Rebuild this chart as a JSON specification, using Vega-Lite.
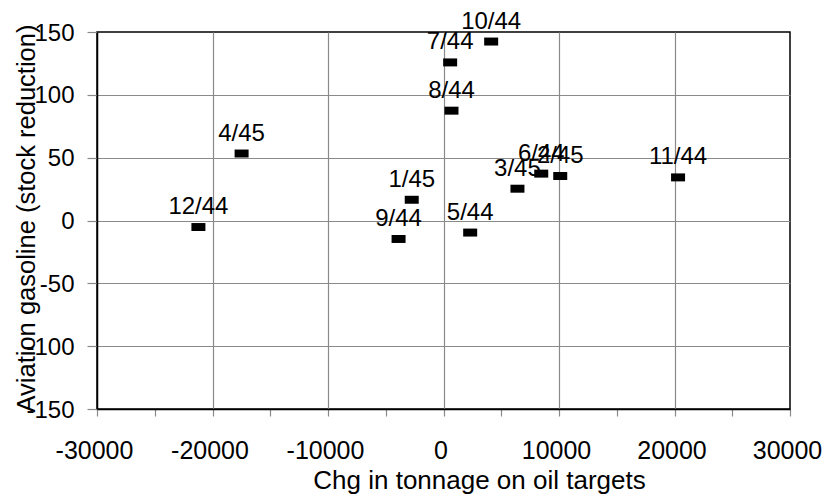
{
  "$schema": "https://vega.github.io/schema/vega-lite/v6.json",
  "width": 693,
  "height": 377,
  "autosize": "none",
  "padding": {"left": 97, "top": 32, "right": 36, "bottom": 86},
  "background": "white",
  "config": {
    "view": {"stroke": "black", "strokeWidth": 1.5},
    "font": "Liberation Sans"
  },
  "data": {
    "values": [
      {"label": "12/44", "x": -21220, "y": -5.2},
      {"label": "4/45", "x": -17480, "y": 53.3},
      {"label": "1/45", "x": -2750, "y": 16.5},
      {"label": "9/44", "x": -3890, "y": -14.7},
      {"label": "7/44", "x": 576, "y": 125.8},
      {"label": "10/44", "x": 4127, "y": 142.4},
      {"label": "8/44", "x": 692, "y": 87.4},
      {"label": "5/44", "x": 2310, "y": -9.6},
      {"label": "3/45", "x": 6403, "y": 25.3},
      {"label": "6/44", "x": 8463, "y": 37.3},
      {"label": "2/45", "x": 10107, "y": 35.4},
      {"label": "11/44", "x": 20308, "y": 34.3}
    ]
  },
  "encoding": {
    "x": {
      "field": "x",
      "type": "quantitative",
      "scale": {"domain": [-30000, 30000], "nice": false, "zero": false},
      "axis": {
        "title": "Chg in tonnage on oil targets",
        "values": [-30000, -25000, -20000, -15000, -10000, -5000, 0, 5000, 10000, 15000, 20000, 25000, 30000],
        "labelExpr": "datum.value % 10000 === 0 ? '' + datum.value : ''",
        "grid": true,
        "gridColor": "#8a8a8a",
        "gridWidth": 1.2,
        "gridOpacity": {"condition": {"test": "datum.value % 10000 !== 0 || abs(datum.value) === 30000", "value": 0}, "value": 1},
        "tickColor": "#8a8a8a",
        "tickWidth": 1.2,
        "tickSize": 7,
        "domainColor": "black",
        "domainWidth": 1.5,
        "labelFont": "Liberation Sans",
        "labelFontSize": 25,
        "labelColor": "black",
        "labelBaseline": "alphabetic",
        "labelPadding": 42,
        "labelOffset": -3,
        "labelFlush": false,
        "labelOverlap": false,
        "titleFont": "Liberation Sans",
        "titleFontSize": 26,
        "titleFontWeight": "normal",
        "titleColor": "black",
        "titleX": 382,
        "titleY": 79,
        "titleAlign": "center",
        "titleBaseline": "alphabetic"
      }
    },
    "y": {
      "field": "y",
      "type": "quantitative",
      "scale": {"domain": [-150, 150], "nice": false, "zero": false},
      "axis": {
        "title": "Aviation gasoline (stock reduction)",
        "values": [-150, -100, -50, 0, 50, 100, 150],
        "labelExpr": "'' + datum.value",
        "grid": true,
        "gridColor": "#8a8a8a",
        "gridWidth": 1.2,
        "gridOpacity": {"condition": {"test": "abs(datum.value) === 150", "value": 0}, "value": 1},
        "tickColor": "#8a8a8a",
        "tickWidth": 1.2,
        "tickSize": 10,
        "domainColor": "black",
        "domainWidth": 1.5,
        "labelFont": "Liberation Sans",
        "labelFontSize": 24,
        "labelColor": "black",
        "labelBaseline": "alphabetic",
        "labelOffset": 8,
        "labelPadding": 13,
        "labelFlush": false,
        "labelOverlap": false,
        "titleFont": "Liberation Sans",
        "titleFontSize": 25.5,
        "titleFontWeight": "normal",
        "titleColor": "black",
        "titleAngle": -90,
        "titleX": -63,
        "titleY": 186,
        "titleAlign": "center",
        "titleBaseline": "alphabetic"
      }
    }
  },
  "layer": [
    {
      "mark": {
        "type": "point",
        "shape": "M-1,-0.57L1,-0.57L1,0.57L-1,0.57Z",
        "size": 196,
        "filled": true,
        "color": "black",
        "opacity": 1
      }
    },
    {
      "mark": {
        "type": "text",
        "dy": -13,
        "baseline": "alphabetic",
        "align": "center",
        "font": "Liberation Sans",
        "fontSize": 24,
        "color": "black"
      },
      "encoding": {"text": {"field": "label"}}
    }
  ]
}
